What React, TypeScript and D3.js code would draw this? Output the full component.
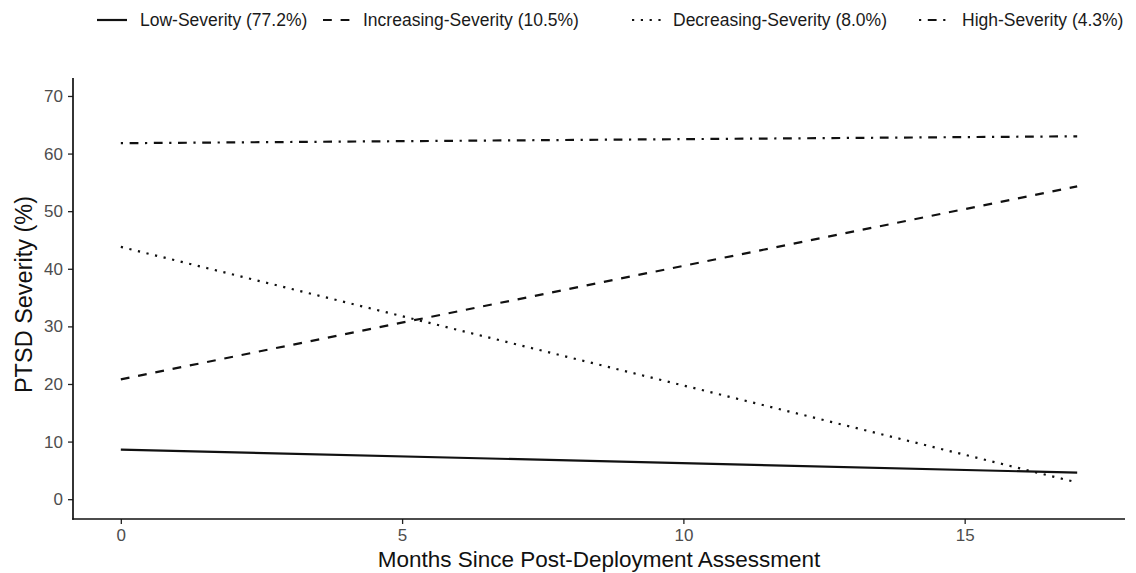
import React, { useEffect, useRef } from 'react';
import * as d3 from 'd3';

// trajectory classes and fitted endpoints (months 0 and 17)
const groups = ['Low-Severity (77.2%)', 'Increasing-Severity (10.5%)', 'Decreasing-Severity (8.0%)', 'High-Severity (4.3%)'];
const months = [0, 17];
const lowValues = [8.6, 4.6];
const increasingValues = [20.8, 54.3];
const decreasingValues = [43.8, 2.9];
const highValues = [61.8, 63.0];
const xTicks = [0, 5, 10, 15];
const yTicks = [0, 10, 20, 30, 40, 50, 60, 70];

const lw = 2.2;
const dashes = [
  'none',
  `${4 * lw},${4 * lw}`,
  `${1 * lw},${3 * lw}`,
  `${1 * lw},${3 * lw},${4 * lw},${3 * lw}`,
];

const App: React.FC = () => {
  const svgRef = useRef<SVGSVGElement>(null);

  useEffect(() => {
    if (!svgRef.current) return;
    const svg = d3.select(svgRef.current);
    svg.selectAll('*').remove();

    const W = 1136;
    const H = 573;
    const left = 73, right = 1125, top = 78, bottom = 519;

    const x = d3.scaleLinear().domain([-0.85, 17.85]).range([left, right]);
    const y = d3.scaleLinear().domain([-3.44, 73.12]).range([bottom, top]);

    svg.attr('width', W).attr('height', H);
    svg.append('rect').attr('width', W).attr('height', H).attr('fill', '#fff');

    const font = 'Liberation Sans, Arial, Helvetica, sans-serif';

    // axes
    const yAxis = svg.append('g')
      .attr('transform', `translate(${left},0)`)
      .call(d3.axisLeft(y).tickValues(yTicks).tickSize(5).tickPadding(5));
    const xAxis = svg.append('g')
      .attr('transform', `translate(0,${bottom})`)
      .call(d3.axisBottom(x).tickValues(xTicks).tickSize(5).tickPadding(5));

    [xAxis, yAxis].forEach(g => {
      g.select('.domain').remove();
      g.selectAll('line').attr('stroke', '#222').attr('stroke-width', 1.3);
      g.selectAll('text').attr('fill', '#4d4d4d').style('font-size', '17px').style('font-family', font);
    });

    svg.append('line')
      .attr('x1', left).attr('x2', left).attr('y1', top).attr('y2', bottom + 0.8)
      .attr('stroke', '#111').attr('stroke-width', 1.7);
    svg.append('line')
      .attr('x1', left - 0.8).attr('x2', right).attr('y1', bottom).attr('y2', bottom)
      .attr('stroke', '#111').attr('stroke-width', 1.7);

    // axis titles
    svg.append('text')
      .attr('x', (left + right) / 2)
      .attr('y', 567)
      .attr('text-anchor', 'middle')
      .style('font-family', font)
      .style('font-size', '22.5px')
      .attr('fill', '#111')
      .text('Months Since Post-Deployment Assessment');

    svg.append('text')
      .attr('transform', `translate(32,${(top + bottom) / 2 - 4}) rotate(-90)`)
      .attr('text-anchor', 'middle')
      .style('font-family', font)
      .style('font-size', '23.5px')
      .attr('fill', '#111')
      .text('PTSD Severity (%)');

    // lines
    const series = [lowValues, increasingValues, decreasingValues, highValues];
    const line = d3.line<number>()
      .x((_, i) => x(months[i]))
      .y(d => y(d));

    series.forEach((vals, i) => {
      svg.append('path')
        .datum(vals)
        .attr('d', line)
        .attr('fill', 'none')
        .attr('stroke', '#111')
        .attr('stroke-width', lw)
        .attr('stroke-dasharray', dashes[i]);
    });

    // legend
    const keyX = [97, 323, 632, 919];
    const textX = [140, 363, 673, 962];
    const legend = svg.append('g').attr('transform', 'translate(0,20)');
    groups.forEach((g, i) => {
      legend.append('line')
        .attr('x1', keyX[i]).attr('x2', keyX[i] + 30)
        .attr('y1', 0).attr('y2', 0)
        .attr('stroke', '#111')
        .attr('stroke-width', lw)
        .attr('stroke-dasharray', dashes[i]);
      legend.append('text')
        .attr('x', textX[i])
        .attr('y', 6)
        .style('font-family', font)
        .style('font-size', '17.5px')
        .attr('fill', '#1a1a1a')
        .text(g);
    });
  }, []);

  return <svg ref={svgRef} style={{ display: 'block', position: 'absolute', left: 0, top: 0 }} />;
};

export default App;
